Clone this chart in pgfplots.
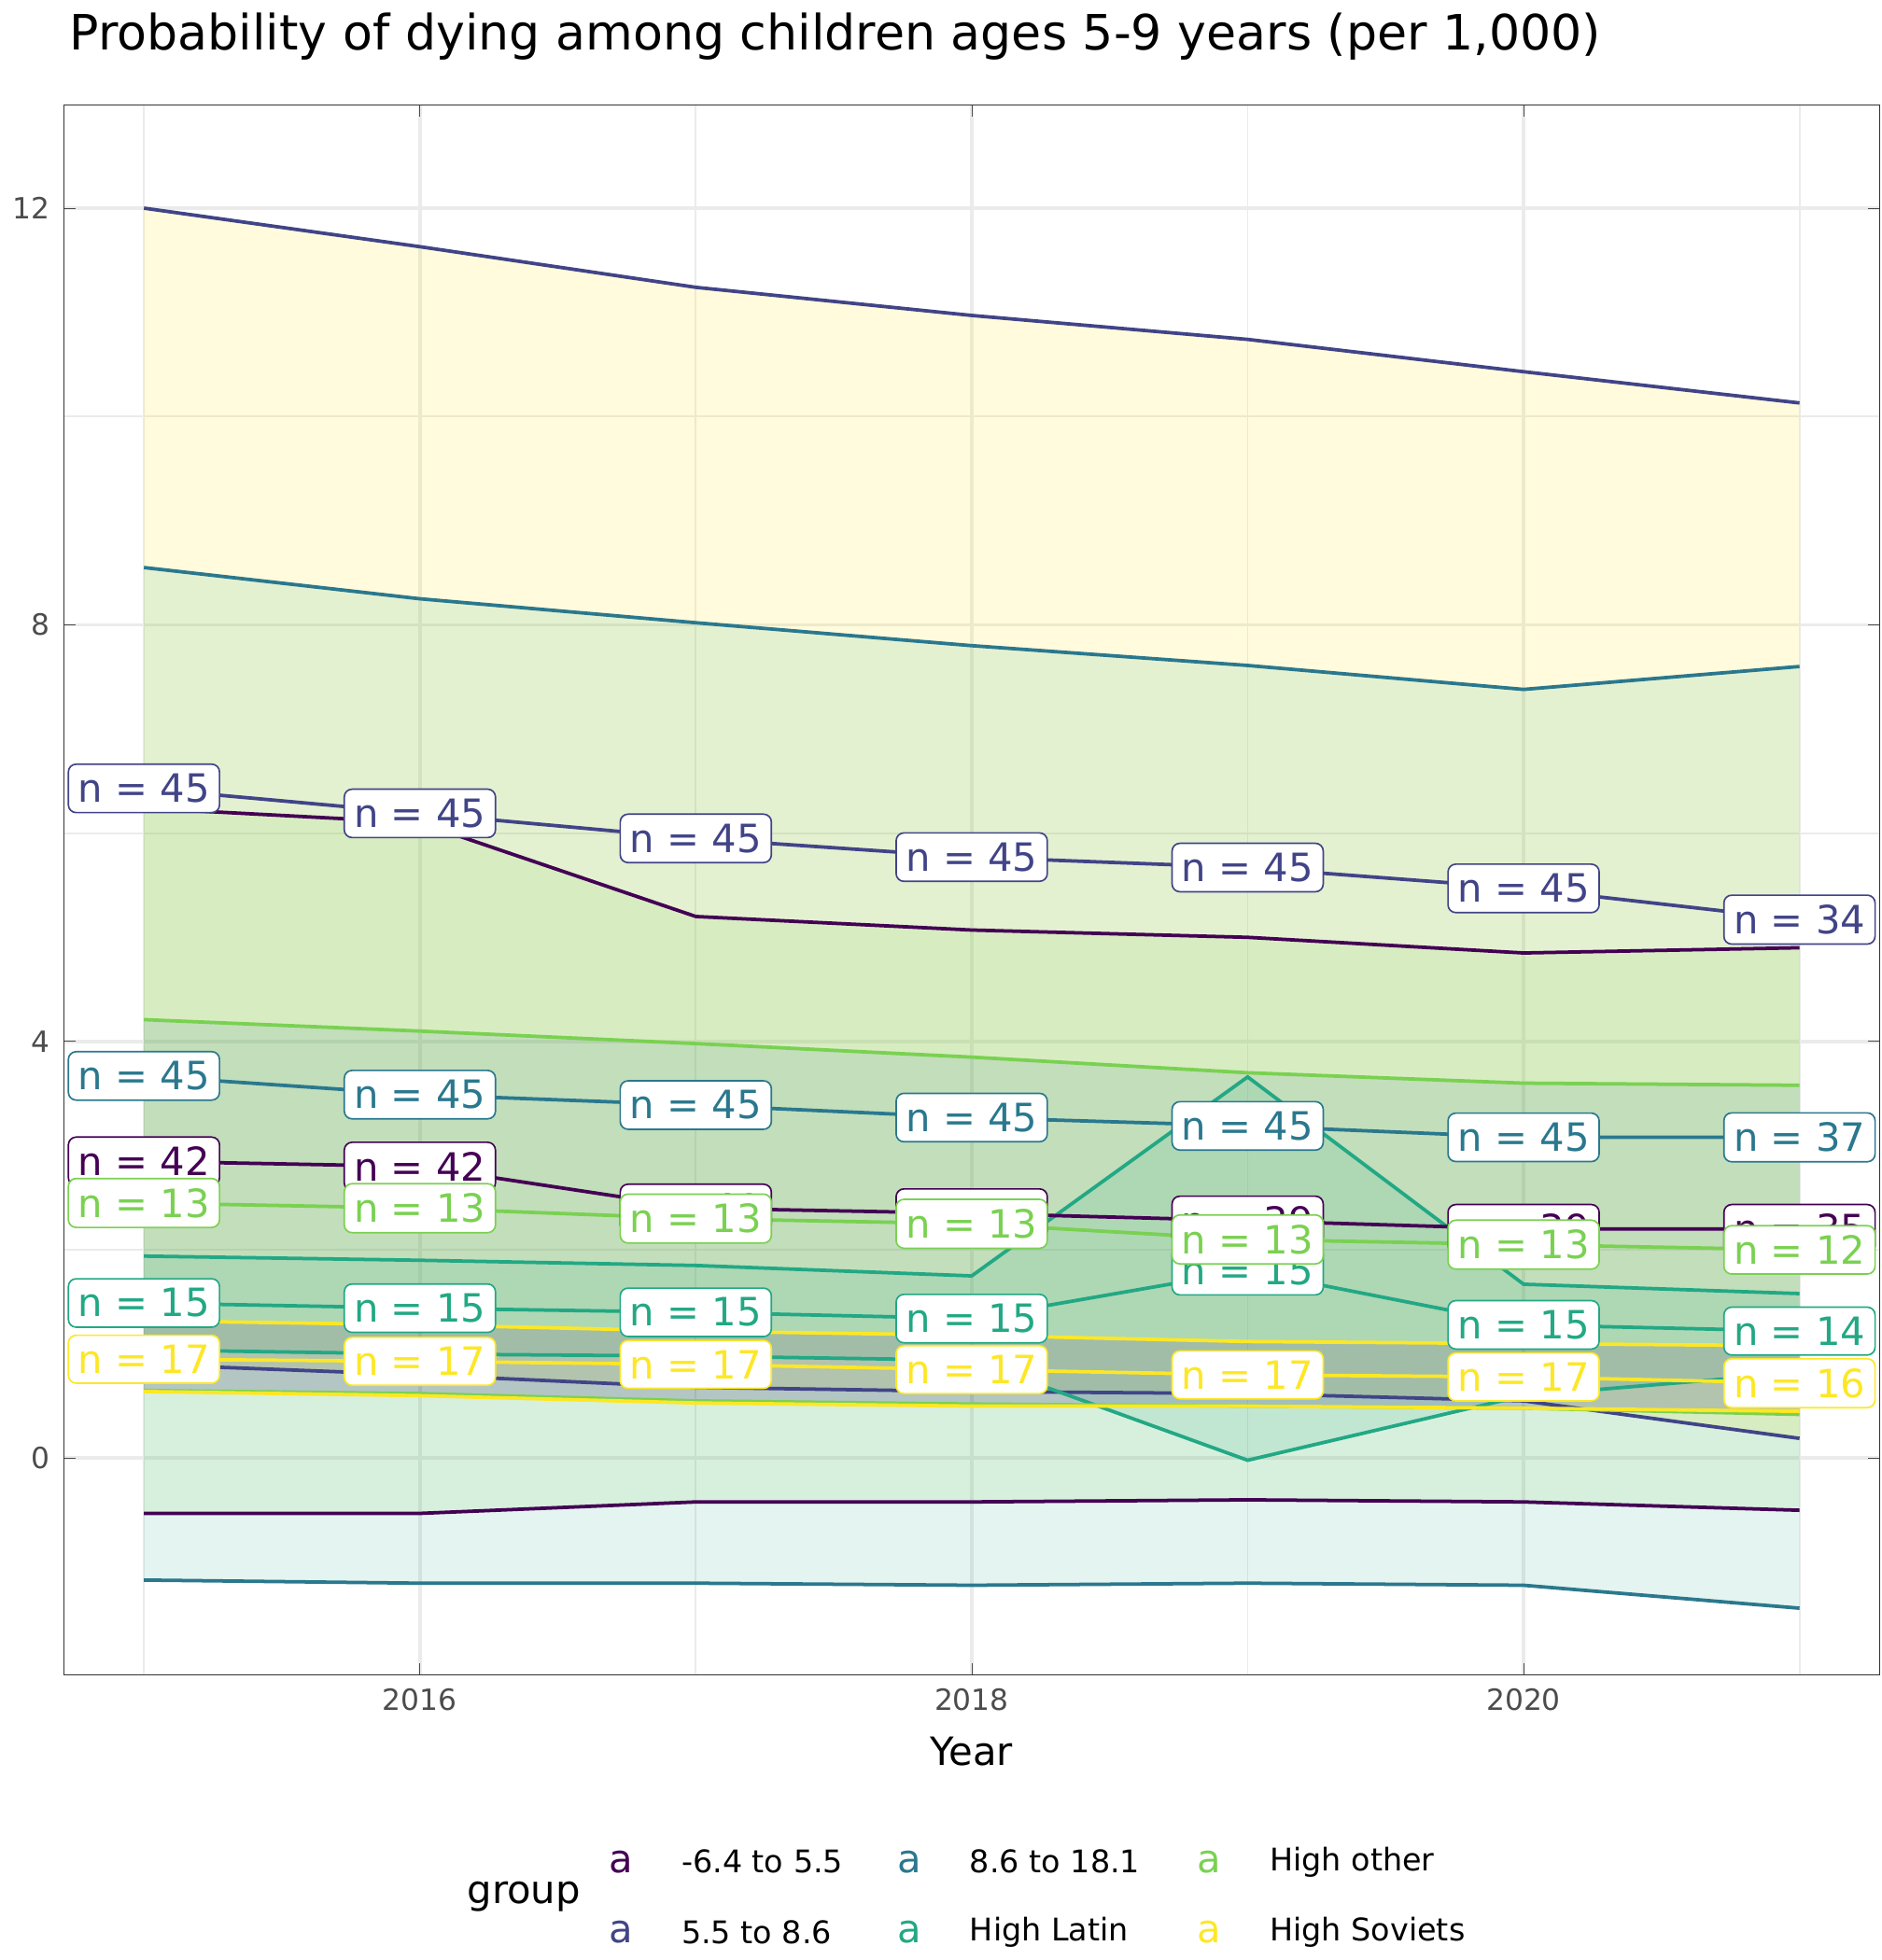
\documentclass[border=0pt]{standalone}
\usepackage{pgfplots}
\pgfplotsset{compat=1.18}
\usepackage{fontspec}
\setmainfont{DejaVu Sans}
\definecolor{cA}{HTML}{440154}
\definecolor{cB}{HTML}{414487}
\definecolor{cC}{HTML}{2A788E}
\definecolor{cD}{HTML}{22A884}
\definecolor{cE}{HTML}{7AD151}
\definecolor{cF}{HTML}{FDE725}
\definecolor{gridc}{HTML}{EBEBEB}
\newcommand{\lab}[4]{\node[draw=#1,text=#1,fill=white,rounded corners=2pt,inner sep=2.5pt,font=\fontsize{10}{12}\selectfont] at (axis cs:#2,#3) {n = #4};}
\begin{document}
\begin{tikzpicture}
\begin{axis}[scale only axis, width=466pt, height=403pt,
 xmin=2014.71, xmax=2021.29, ymin=-2.08, ymax=12.99,
 xtick={2016,2018,2020}, ytick={0,4,8,12},
 minor xtick={2015,2017,2019,2021}, minor ytick={2,6,10},
 xticklabel style={/pgf/number format/1000 sep=},
 grid=both, major grid style={gridc,line width=0.9pt}, minor grid style={gridc,line width=0.45pt},
 tick style={black!70}, major tick length=3pt, minor tick length=0pt,
 ticklabel style={font=\fontsize{7.5}{9}\selectfont, text=black!70},
 /pgf/number format/assume math mode=true,
 axis line style={black!80},
 xlabel={Year}, xlabel style={font=\fontsize{10}{12}\selectfont},
 title={Probability of dying among children ages 5-9 years (per 1,000)},
 title style={font=\fontsize{12.5}{15}\selectfont, anchor=south west, at={(rel axis cs:0,1)}, xshift=-2pt, yshift=2pt},
 every axis plot/.append style={line width=0.9pt},
]
% ribbons
\addplot[draw=none,fill=cF,fill opacity=0.16] coordinates {(2015,12)(2016,11.63)(2017,11.24)(2018,10.97)(2019,10.74)(2020,10.43)(2021,10.13)(2021,0.19)(2020,0.55)(2019,0.62)(2018,0.64)(2017,0.68)(2016,0.8)(2015,0.9)} -- cycle;
\addplot[draw=none,fill=cD,fill opacity=0.12] coordinates {(2015,8.55)(2016,8.25)(2017,8.02)(2018,7.8)(2019,7.61)(2020,7.38)(2021,7.6)(2021,-1.44)(2020,-1.22)(2019,-1.2)(2018,-1.22)(2017,-1.2)(2016,-1.2)(2015,-1.17)} -- cycle;
\addplot[draw=none,fill=cE,fill opacity=0.12] coordinates {(2015,6.24)(2016,6.1)(2017,5.2)(2018,5.07)(2019,5.0)(2020,4.85)(2021,4.9)(2021,-0.5)(2020,-0.42)(2019,-0.4)(2018,-0.42)(2017,-0.42)(2016,-0.53)(2015,-0.53)} -- cycle;
\addplot[draw=none,fill=cC,fill opacity=0.12] coordinates {(2015,4.21)(2016,4.1)(2017,3.98)(2018,3.85)(2019,3.7)(2020,3.6)(2021,3.58)(2021,0.42)(2020,0.48)(2019,0.5)(2018,0.52)(2017,0.55)(2016,0.62)(2015,0.65)} -- cycle;
\addplot[draw=none,fill=cD,fill opacity=0.12] coordinates {(2015,1.94)(2016,1.9)(2017,1.85)(2018,1.75)(2019,3.66)(2020,1.67)(2021,1.58)(2021,0.82)(2020,0.6)(2019,-0.02)(2018,0.94)(2017,0.98)(2016,1.0)(2015,1.04)} -- cycle;
\addplot[draw=none,fill=cA,fill opacity=0.12] coordinates {(2015,1.32)(2016,1.28)(2017,1.22)(2018,1.18)(2019,1.12)(2020,1.1)(2021,1.08)(2021,0.45)(2020,0.48)(2019,0.5)(2018,0.5)(2017,0.53)(2016,0.6)(2015,0.64)} -- cycle;
% bounds
\addplot[cA] coordinates {(2015,6.24)(2016,6.1)(2017,5.2)(2018,5.07)(2019,5.0)(2020,4.85)(2021,4.9)};
\addplot[cA] coordinates {(2015,-0.53)(2016,-0.53)(2017,-0.42)(2018,-0.42)(2019,-0.4)(2020,-0.42)(2021,-0.5)};
\addplot[cB] coordinates {(2015,12)(2016,11.63)(2017,11.24)(2018,10.97)(2019,10.74)(2020,10.43)(2021,10.13)};
\addplot[cB] coordinates {(2015,0.9)(2016,0.8)(2017,0.68)(2018,0.64)(2019,0.62)(2020,0.55)(2021,0.19)};
\addplot[cC] coordinates {(2015,8.55)(2016,8.25)(2017,8.02)(2018,7.8)(2019,7.61)(2020,7.38)(2021,7.6)};
\addplot[cC] coordinates {(2015,-1.17)(2016,-1.2)(2017,-1.2)(2018,-1.22)(2019,-1.2)(2020,-1.22)(2021,-1.44)};
\addplot[cD] coordinates {(2015,1.94)(2016,1.9)(2017,1.85)(2018,1.75)(2019,3.66)(2020,1.67)(2021,1.58)};
\addplot[cD] coordinates {(2015,1.04)(2016,1.0)(2017,0.98)(2018,0.94)(2019,-0.02)(2020,0.6)(2021,0.82)};
\addplot[cE] coordinates {(2015,4.21)(2016,4.1)(2017,3.98)(2018,3.85)(2019,3.7)(2020,3.6)(2021,3.58)};
\addplot[cE] coordinates {(2015,0.65)(2016,0.62)(2017,0.55)(2018,0.52)(2019,0.5)(2020,0.48)(2021,0.42)};
\addplot[cF] coordinates {(2015,1.32)(2016,1.28)(2017,1.22)(2018,1.18)(2019,1.12)(2020,1.1)(2021,1.08)};
\addplot[cF] coordinates {(2015,0.64)(2016,0.6)(2017,0.53)(2018,0.5)(2019,0.5)(2020,0.48)(2021,0.45)};
% means
\addplot[cA] coordinates {(2015,2.85)(2016,2.8)(2017,2.4)(2018,2.35)(2019,2.28)(2020,2.2)(2021,2.2)};
\addplot[cB] coordinates {(2015,6.43)(2016,6.19)(2017,5.95)(2018,5.77)(2019,5.67)(2020,5.47)(2021,5.17)};
\addplot[cC] coordinates {(2015,3.67)(2016,3.49)(2017,3.39)(2018,3.27)(2019,3.19)(2020,3.08)(2021,3.08)};
\addplot[cD] coordinates {(2015,1.49)(2016,1.44)(2017,1.4)(2018,1.34)(2019,1.8)(2020,1.28)(2021,1.22)};
\addplot[cE] coordinates {(2015,2.45)(2016,2.4)(2017,2.3)(2018,2.25)(2019,2.1)(2020,2.05)(2021,2.0)};
\addplot[cF] coordinates {(2015,0.95)(2016,0.93)(2017,0.9)(2018,0.85)(2019,0.8)(2020,0.78)(2021,0.72)};
% labels
\lab{cA}{2015}{2.85}{42}\lab{cA}{2016}{2.8}{42}\lab{cA}{2017}{2.4}{41}\lab{cA}{2018}{2.35}{40}\lab{cA}{2019}{2.28}{39}\lab{cA}{2020}{2.2}{39}\lab{cA}{2021}{2.2}{35}
\lab{cB}{2015}{6.43}{45}\lab{cB}{2016}{6.19}{45}\lab{cB}{2017}{5.95}{45}\lab{cB}{2018}{5.77}{45}\lab{cB}{2019}{5.67}{45}\lab{cB}{2020}{5.47}{45}\lab{cB}{2021}{5.17}{34}
\lab{cC}{2015}{3.67}{45}\lab{cC}{2016}{3.49}{45}\lab{cC}{2017}{3.39}{45}\lab{cC}{2018}{3.27}{45}\lab{cC}{2019}{3.19}{45}\lab{cC}{2020}{3.08}{45}\lab{cC}{2021}{3.08}{37}
\lab{cD}{2015}{1.49}{15}\lab{cD}{2016}{1.44}{15}\lab{cD}{2017}{1.4}{15}\lab{cD}{2018}{1.34}{15}\lab{cD}{2019}{1.8}{15}\lab{cD}{2020}{1.28}{15}\lab{cD}{2021}{1.22}{14}
\lab{cE}{2015}{2.45}{13}\lab{cE}{2016}{2.4}{13}\lab{cE}{2017}{2.3}{13}\lab{cE}{2018}{2.25}{13}\lab{cE}{2019}{2.1}{13}\lab{cE}{2020}{2.05}{13}\lab{cE}{2021}{2.0}{12}
\lab{cF}{2015}{0.95}{17}\lab{cF}{2016}{0.93}{17}\lab{cF}{2017}{0.9}{17}\lab{cF}{2018}{0.85}{17}\lab{cF}{2019}{0.8}{17}\lab{cF}{2020}{0.78}{17}\lab{cF}{2021}{0.72}{16}
\end{axis}
% legend
\begin{scope}[font=\fontsize{8}{10}\selectfont]
\node[anchor=west,font=\fontsize{10}{12}\selectfont] at (100pt,-57pt) {group};
\foreach \c/\t/\x/\y in {cA/-6.4 to 5.5/143/-48, cB/5.5 to 8.6/143/-66, cC/8.6 to 18.1/217/-48, cD/High Latin/217/-66, cE/High other/294/-48, cF/High Soviets/294/-66}{
 \node[text=\c,font=\fontsize{10}{12}\selectfont] at (\x pt,\y pt) {a};
 \node[anchor=west,xshift=12pt] at (\x pt,\y pt) {\t};
}
\end{scope}
\end{tikzpicture}
\end{document}
